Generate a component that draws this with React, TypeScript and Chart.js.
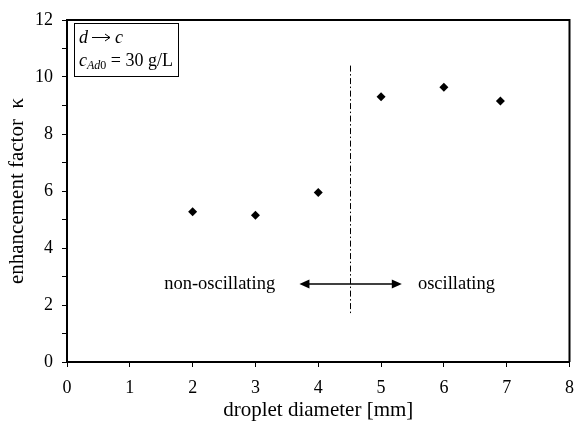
import React, { useEffect, useRef } from "react";
import { Chart, registerables } from "chart.js";

Chart.register(...registerables);

// ---- data ----
const diameters = [2, 3, 4, 5, 6, 6.9];
const kappa = [5.27, 5.15, 5.95, 9.31, 9.64, 9.16];
const xTickValues = [0, 1, 2, 3, 4, 5, 6, 7, 8];
const yTickLabels = ["0", "2", "4", "6", "8", "10", "12"];

// regime boundary & annotation (data units)
const boundaryX = 4.5;
const boundaryY = [1.65, 10.4];
const arrowX = [3.7, 5.33];
const arrowY = 2.74;
const regimeLabels = ["non-oscillating", "oscillating"];
const regimeLabelX = [2.43, 6.2];

const SERIF = "'Liberation Serif', 'Times New Roman', serif";

const annotPlugin = {
  id: "annot",
  afterDraw(chart: any) {
    const { ctx, chartArea: a, scales } = chart;
    const xs = scales.x;
    const ys = scales.y;
    ctx.save();
    // frame (top & right)
    ctx.strokeStyle = "#000";
    ctx.lineWidth = 2;
    ctx.beginPath();
    ctx.moveTo(a.left, a.top);
    ctx.lineTo(a.right, a.top);
    ctx.lineTo(a.right, a.bottom);
    ctx.stroke();

    // dash-dot boundary
    const bx = Math.round(xs.getPixelForValue(boundaryX)) + 0.5;
    ctx.lineWidth = 1;
    ctx.setLineDash([6, 2.5, 1.5, 2.5]);
    ctx.beginPath();
    ctx.moveTo(bx, ys.getPixelForValue(boundaryY[1]));
    ctx.lineTo(bx, ys.getPixelForValue(boundaryY[0]));
    ctx.stroke();
    ctx.setLineDash([]);

    // double arrow
    const ay = Math.round(ys.getPixelForValue(arrowY));
    const ax0 = xs.getPixelForValue(arrowX[0]);
    const ax1 = xs.getPixelForValue(arrowX[1]);
    const hl = 10, hw = 4.5;
    ctx.lineWidth = 1.5;
    ctx.beginPath();
    ctx.moveTo(ax0 + hl - 1, ay);
    ctx.lineTo(ax1 - hl + 1, ay);
    ctx.stroke();
    ctx.fillStyle = "#000";
    ctx.beginPath();
    ctx.moveTo(ax0, ay);
    ctx.lineTo(ax0 + hl, ay - hw);
    ctx.lineTo(ax0 + hl, ay + hw);
    ctx.closePath();
    ctx.fill();
    ctx.beginPath();
    ctx.moveTo(ax1, ay);
    ctx.lineTo(ax1 - hl, ay - hw);
    ctx.lineTo(ax1 - hl, ay + hw);
    ctx.closePath();
    ctx.fill();

    // regime labels
    ctx.font = `18.5px ${SERIF}`;
    ctx.textAlign = "center";
    ctx.textBaseline = "middle";
    regimeLabels.forEach((t, i) => {
      ctx.fillText(t, xs.getPixelForValue(regimeLabelX[i]), ay);
    });

    // legend box
    const lx = a.left + 7;
    const ly = a.top + 3;
    const lw = 104;
    const lh = 53;
    ctx.lineWidth = 1;
    ctx.strokeRect(Math.round(lx) + 0.5, Math.round(ly) + 0.5, lw, lh);
    ctx.textAlign = "left";
    ctx.textBaseline = "alphabetic";
    let x = lx + 5;
    const base1 = ly + 20;
    ctx.font = `italic 18px ${SERIF}`;
    ctx.fillText("d", x, base1);
    x += ctx.measureText("d").width + 4;
    // arrow glyph drawn as line + head
    const arY = base1 - 5.5;
    const arLen = 18;
    ctx.lineWidth = 1;
    ctx.beginPath();
    ctx.moveTo(x, arY);
    ctx.lineTo(x + arLen, arY);
    ctx.moveTo(x + arLen - 5, arY - 3.5);
    ctx.lineTo(x + arLen, arY);
    ctx.lineTo(x + arLen - 5, arY + 3.5);
    ctx.stroke();
    x += arLen + 5;
    ctx.font = `italic 18px ${SERIF}`;
    ctx.fillText("c", x, base1);

    x = lx + 5;
    const base2 = ly + 43;
    ctx.font = `italic 18px ${SERIF}`;
    ctx.fillText("c", x, base2);
    x += ctx.measureText("c").width;
    ctx.font = `italic 12px ${SERIF}`;
    ctx.fillText("Ad", x, base2 + 3);
    x += ctx.measureText("Ad").width;
    ctx.font = `12px ${SERIF}`;
    ctx.fillText("0", x, base2 + 3);
    x += ctx.measureText("0").width;
    ctx.font = `18px ${SERIF}`;
    ctx.fillText(" = 30 g/L", x, base2);
    ctx.restore();
  },
};

export default function App() {
  const ref = useRef<HTMLCanvasElement | null>(null);
  useEffect(() => {
    document.body.style.margin = "0";
    const canvas = ref.current!;
    const chart = new Chart(canvas, {
      type: "scatter",
      data: {
        datasets: [
          {
            data: diameters.map((d, i) => ({ x: d, y: kappa[i] })),
            pointStyle: "rectRot",
            pointRadius: 4.5,
            pointBackgroundColor: "#000",
            pointBorderColor: "#000",
            borderWidth: 0,
          },
        ],
      },
      options: {
        animation: false,
        responsive: false,
        devicePixelRatio: 1,
        layout: { padding: { top: 20, right: 3, left: 0, bottom: 0 } },
        plugins: { legend: { display: false }, tooltip: { enabled: false } },
        scales: {
          x: {
            type: "linear",
            min: 0,
            max: 8,
            afterBuildTicks: (s: any) => {
              s.ticks = xTickValues.map((v) => ({ value: v }));
            },
            ticks: {
              color: "#000",
              font: { family: SERIF, size: 18 },
              padding: 10,
              maxRotation: 0,
              callback: (v: any) => String(v),
            },
            grid: {
              drawOnChartArea: false,
              drawTicks: true,
              tickLength: 5,
              color: "#000",
              lineWidth: 1,
            },
            border: { display: true, color: "#000", width: 2 },
            title: {
              display: true,
              text: "droplet diameter [mm]",
              color: "#000",
              font: { family: SERIF, size: 21 },
              padding: { top: 0, bottom: 0 },
            },
            afterFit: (s: any) => {
              s.height = 61;
              s.paddingRight = 0;
              s.paddingLeft = 0;
            },
          },
          y: {
            type: "linear",
            min: 0,
            max: 12,
            ticks: {
              stepSize: 1,
              autoSkip: false,
              color: "#000",
              font: { family: SERIF, size: 18 },
              padding: 9,
              callback: (v: any) => (Number(v) % 2 === 0 ? yTickLabels[Number(v) / 2] : ""),
            },
            grid: {
              drawOnChartArea: false,
              drawTicks: true,
              tickLength: 5,
              color: "#000",
              lineWidth: 1,
            },
            border: { display: true, color: "#000", width: 2 },
            title: {
              display: true,
              text: "enhancement factor  \u03BA",
              color: "#000",
              font: { family: SERIF, size: 21 },
              padding: { top: 5, bottom: 0 },
            },
            afterFit: (s: any) => {
              s.width = 67;
              s.paddingTop = 0;
              s.paddingBottom = 0;
            },
          },
        },
      },
      plugins: [annotPlugin],
    });
    return () => chart.destroy();
  }, []);
  return (
    <div style={{ width: 574, height: 423, background: "#fff" }}>
      <canvas ref={ref} width={574} height={423} />
    </div>
  );
}
